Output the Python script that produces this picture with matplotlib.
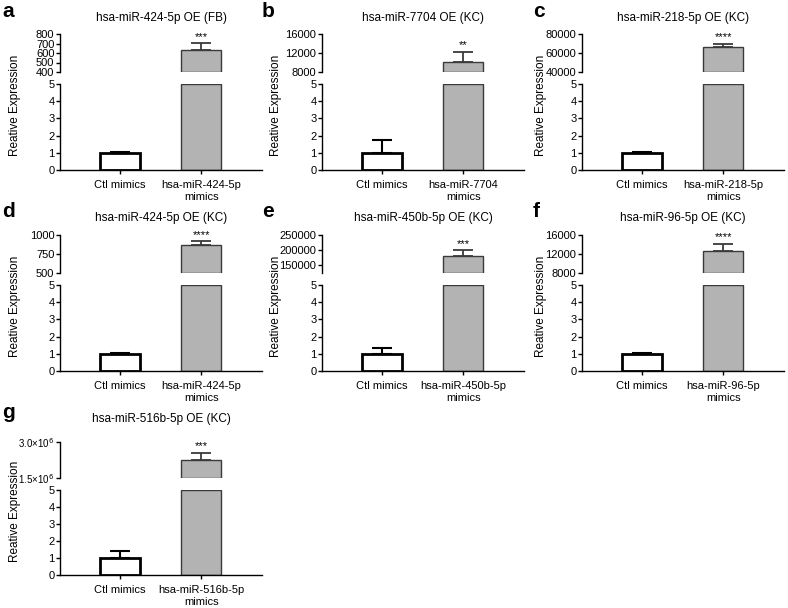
import numpy as np
import matplotlib.pyplot as plt

plt.rcParams['font.family'] = ['Liberation Sans', 'DejaVu Sans']

# datos de cada panel
letras = ['a', 'b', 'c', 'd', 'e', 'f', 'g']
titulos = ['hsa-miR-424-5p OE (FB)', 'hsa-miR-7704 OE (KC)', 'hsa-miR-218-5p OE (KC)',
           'hsa-miR-424-5p OE (KC)', 'hsa-miR-450b-5p OE (KC)', 'hsa-miR-96-5p OE (KC)',
           'hsa-miR-516b-5p OE (KC)']
grupos = ['hsa-miR-424-5p\nmimics', 'hsa-miR-7704\nmimics', 'hsa-miR-218-5p\nmimics',
          'hsa-miR-424-5p\nmimics', 'hsa-miR-450b-5p\nmimics', 'hsa-miR-96-5p\nmimics',
          'hsa-miR-516b-5p\nmimics']
ctl_media = [1.0, 1.0, 1.0, 1.0, 1.0, 1.0, 1.0]
ctl_err = [0.06, 0.75, 0.05, 0.07, 0.36, 0.05, 0.42]
oe_media = [630, 10100, 66000, 870, 180000, 12700, 2.25e6]
oe_err = [75, 2200, 3800, 50, 20000, 1450, 0.3e6]
estrellas = ['***', '**', '****', '****', '***', '****', '***']
lim_sup = [(400, 800), (8000, 16000), (40000, 80000), (500, 1000),
           (125000, 250000), (8000, 16000), (1.5e6, 3.0e6)]
ticks_sup = [[400, 500, 600, 700, 800], [8000, 12000, 16000], [40000, 60000, 80000],
             [500, 750, 1000], [150000, 200000, 250000], [8000, 12000, 16000],
             [1.5e6, 3.0e6]]
ticks_sup_txt = [None, None, None, None, None, None,
                 ['1.5\u00d710$^{6}$', '3.0\u00d710$^{6}$']]

W, H = 788, 608
fig = plt.figure(figsize=(W / 100, H / 100), dpi=100)


def caja(x, y0, w, h):
    # coordenadas en pixeles medidas desde arriba
    return [x / W, 1 - (y0 + h) / H, w / W, h / H]


col_x = [60, 322, 582]
ylab_x = [15, 276, 541]
letra_x = [2, 262, 533]
# (titulo, tope sup, base sup, tope inf, base inf)
filas = [(18, 34, 72, 84, 170), (218, 235, 273, 285, 371), (419, 442, 478, 490, 575)]
ancho = 202
gris = '#b3b3b3'

for i in range(len(titulos)):
    f, c = divmod(i, 3)
    yt, s0, s1, l0, l1 = filas[f]
    x0 = col_x[c]

    ax_inf = fig.add_axes(caja(x0, l0, ancho, l1 - l0))
    ax_sup = fig.add_axes(caja(x0, s0, ancho, s1 - s0))

    # parte baja
    ax_inf.bar(0, ctl_media[i], width=0.5, color='white', edgecolor='black', linewidth=2, zorder=2)
    ax_inf.errorbar(0, ctl_media[i], yerr=[[0], [ctl_err[i]]], color='black', capsize=7,
                    elinewidth=1.5, capthick=1.5, zorder=1)
    ax_inf.bar(1, 5, width=0.5, color=gris, edgecolor='#3a3a3a', linewidth=1)
    ax_inf.set_ylim(0, 5)
    ax_inf.set_yticks(range(6))
    ax_inf.set_xlim(-0.74, 1.75)
    ax_inf.set_xticks([0, 1])
    ax_inf.set_xticklabels(['Ctl mimics', grupos[i]], fontsize=8, linespacing=1.25)
    for s in ['top', 'right']:
        ax_inf.spines[s].set_visible(False)

    # parte alta
    lo, hi = lim_sup[i]
    ax_sup.bar(1, oe_media[i] - lo, bottom=lo, width=0.5, color=gris, edgecolor='#3a3a3a',
               linewidth=1, zorder=2)
    ax_sup.errorbar(1, oe_media[i], yerr=[[0], [oe_err[i]]], color='#3a3a3a', capsize=7,
                    elinewidth=1.3, capthick=1.3, zorder=1)
    ax_sup.annotate(estrellas[i], (1, oe_media[i] + oe_err[i]), xytext=(0, 1),
                    textcoords='offset points', ha='center', va='bottom', fontsize=8)
    ax_sup.set_ylim(lo, hi)
    ax_sup.set_yticks(ticks_sup[i])
    ax_sup.set_xlim(-0.74, 1.75)
    ax_sup.set_xticks([])
    for s in ['top', 'right', 'bottom']:
        ax_sup.spines[s].set_visible(False)

    for ax in (ax_inf, ax_sup):
        ax.tick_params(axis='y', labelsize=8, length=3, width=1, pad=1)
        ax.tick_params(axis='x', length=3, width=1, pad=4)
        ax.spines['left'].set_linewidth(1)
        ax.spines['bottom'].set_linewidth(1)
    if ticks_sup_txt[i] is not None:
        ax_sup.set_yticklabels(ticks_sup_txt[i], fontsize=7)

    fig.text((x0 + ancho / 2) / W, 1 - yt / H, titulos[i], ha='center', va='center', fontsize=8.5)
    fig.text(ylab_x[c] / W, 1 - ((s0 + l1) / 2 + 3) / H, 'Reative Expression', rotation=90,
             ha='center', va='center', fontsize=8.5)
    fig.text(letra_x[c] / W, 1 - (yt - 16) / H, letras[i], ha='left', va='top',
             fontsize=15, fontweight='bold')

fig.savefig('out.png', dpi=100)
